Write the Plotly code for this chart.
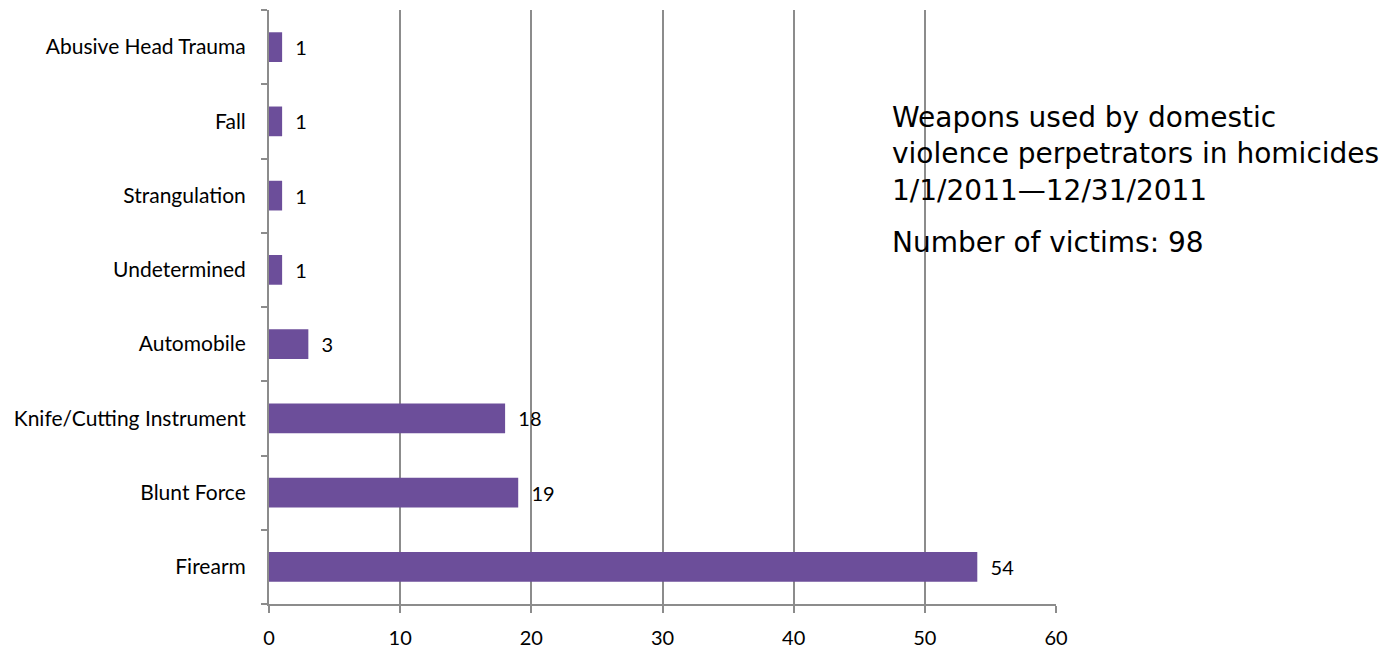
import plotly.graph_objects as go

categories = ["Firearm", "Blunt Force", "Knife/Cutting Instrument", "Automobile",
              "Undetermined", "Strangulation", "Fall", "Abusive Head Trauma"]
victims = [54, 19, 18, 3, 1, 1, 1, 1]
x_ticks = [0, 10, 20, 30, 40, 50, 60]
title_lines = ["Weapons used by domestic", "violence perpetrators in homicides",
               "1/1/2011\u201412/31/2011"]
subtitle = "Number of victims: 98"

OFF = 8  # default page body margin
L, R, T, B = 269 - OFF, 1056 - OFF, 10 - OFF, 604 - OFF

fig = go.Figure()
fig.add_trace(go.Bar(
    y=categories, x=victims, orientation="h", width=0.4,
    marker=dict(color="#6C4E9A", line=dict(width=0)),
    text=["  " + str(v) for v in victims], textposition="outside",
    textfont=dict(family="Lato", size=20, color="#000"),
    cliponaxis=False,
))

fig.update_layout(
    width=1396, height=652,
    margin=dict(l=L, r=1396 - R, t=T, b=652 - B),
    plot_bgcolor="white", paper_bgcolor="white",
    showlegend=False,
    xaxis=dict(range=[0, 60], tickvals=x_ticks, showgrid=True, gridcolor="#8c8c8c",
               gridwidth=1.5, showline=True, linecolor="#8c8c8c", linewidth=2,
               ticks="outside", ticklen=7, tickcolor="#8c8c8c", tickwidth=2,
               ticklabelstandoff=8,
               tickfont=dict(family="Lato", size=20, color="#000"), zeroline=False),
    yaxis=dict(categoryorder="array", categoryarray=categories, range=[-0.5, 7.5],
               showline=True, linecolor="#8c8c8c", linewidth=2,
               ticks="outside", tickson="boundaries", ticklen=6, tickcolor="#8c8c8c",
               tickwidth=2, ticklabelstandoff=17,
               tickfont=dict(family="Lato", size=21, color="#000"),
               showgrid=False),
)

ax = (890 - 269) / (1056 - 269)
def py(p):
    return 1 - (p - 10) / (604 - 10)

fig.add_annotation(
    xref="paper", yref="paper", x=ax, y=py(154),
    xanchor="left", yanchor="middle", align="left", showarrow=False,
    text="<br>".join(title_lines),
    font=dict(family="DejaVu Sans", size=28, color="#000"),
)
fig.add_annotation(
    xref="paper", yref="paper", x=ax, y=py(242),
    xanchor="left", yanchor="middle", align="left", showarrow=False,
    text=subtitle, font=dict(family="DejaVu Sans", size=28, color="#000"),
)

fig.write_html("out.html")
